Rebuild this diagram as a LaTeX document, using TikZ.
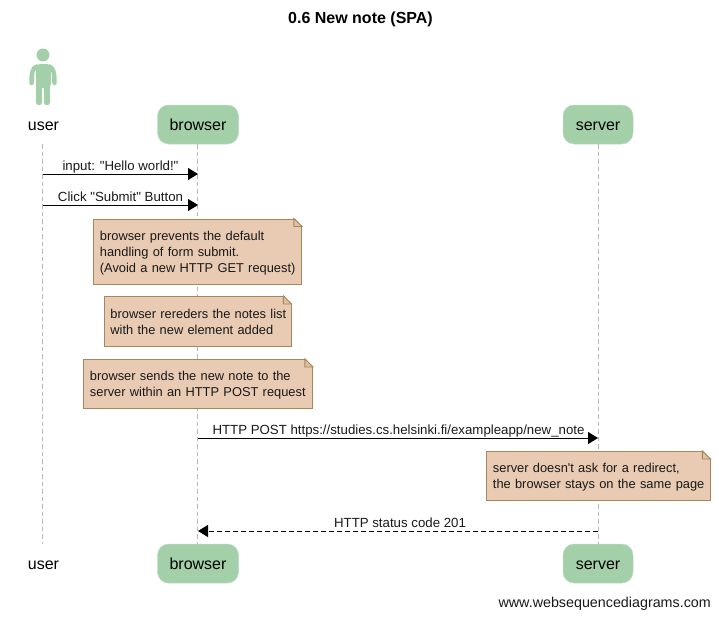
\documentclass[tikz,border=0pt]{standalone}
\usepackage{fontspec}
\setmainfont{Liberation Sans}[Ligatures=TeXOff]
\usetikzlibrary{arrows.meta,calc}
\definecolor{actorgreen}{HTML}{A3D0A9}
\definecolor{notefill}{HTML}{E8CBB2}
\definecolor{noteedge}{HTML}{A6875A}
\definecolor{lifegray}{HTML}{B8B8B8}
\tikzset{
  x=1pt,y=-1pt,
  participant/.style={fill=actorgreen,draw=actorgreen!70!white,line width=.5pt,rounded corners=11pt,minimum height=39pt,inner sep=0pt,text height=12.5pt,text depth=1.5pt,font=\fontsize{16}{18}\selectfont,text=black},
  plainname/.style={inner sep=0pt,text height=12.5pt,text depth=1.5pt,font=\fontsize{16}{18}\selectfont,text=black},
  lifeline/.style={draw=lifegray,line width=.8pt,dash pattern=on 4.5pt off 3pt},
  msg/.style={draw=black,line width=1pt,-{Triangle[length=10pt,width=12pt]}},
  retmsg/.style={msg,dash pattern=on 5pt off 3pt},
  msglabel/.style={inner sep=0pt,anchor=base,font=\fontsize{13.25}{16}\selectfont,text=black!90},
  notebox/.style={fill=notefill,draw=noteedge,line width=.9pt,anchor=north west,inner sep=0pt,font=\fontsize{12.85}{16}\selectfont,align=left,text=black!90},
  foldcut/.style={fill=white,draw=none},
  foldmark/.style={fill=notefill!85!noteedge,draw=noteedge,line width=.9pt,line join=miter},
  limb/.style={draw=actorgreen,line cap=round,line join=round},
}
\newcommand{\ind}{\hspace*{6.5pt}}
\newcommand{\dogear}[1]{%
  \path[foldcut] ($(#1.north east)+(-8,-1)$) -- ($(#1.north east)+(1,-1)$) -- ($(#1.north east)+(1,8)$) -- cycle;
  \draw[foldmark] ($(#1.north east)+(-8,0)$) -- ($(#1.north east)+(0,8)$) -- ($(#1.north east)+(-8,8)$) -- cycle;
}
\begin{document}
\begin{tikzpicture}
\useasboundingbox (0,0) rectangle (719,618);
\node[font=\bfseries\fontsize{16}{18}\selectfont,inner sep=0pt] (title) at (360.5,19.5) {0.6 New note (SPA)};
% user icon
\fill[actorgreen] (43,55) circle (6.5);
\draw[limb,line width=8pt] (39.5,68) -- (46.5,68) -- (46.5,84) -- (39.5,84) -- cycle;
\draw[limb,line width=5.5pt] (39,102.5) -- (39,82);
\draw[limb,line width=5.5pt] (47,102.5) -- (47,82);
\draw[limb,line width=4.5pt] (36.5,66.5) .. controls (33,68) and (31.5,72) .. (31.5,83);
\draw[limb,line width=4.5pt] (49.5,66.5) .. controls (53,68) and (54.5,72) .. (54.5,83);
% participants
\node[plainname] (userT) at (43.5,124.5) {user};
\node[plainname] (userB) at (43.5,563.5) {user};
\node[participant,minimum width=81pt] (browserT) at (198,124.5) {browser};
\node[participant,minimum width=70pt] (serverT) at (598,124.5) {server};
\node[participant,minimum width=81pt] (browserB) at (198,563.5) {browser};
\node[participant,minimum width=70pt] (serverB) at (598,563.5) {server};
% lifelines
\coordinate (uTop) at (42.5,144); \coordinate (uBot) at (42.5,544);
\coordinate (bTop) at (197.5,144); \coordinate (bBot) at (197.5,544);
\coordinate (sTop) at (598.5,144); \coordinate (sBot) at (598.5,544);
\draw[lifeline] (uTop) -- (uBot);
\draw[lifeline] (bTop) -- (bBot);
\draw[lifeline] (sTop) -- (sBot);
% messages
\coordinate (m1a) at (43,174); \coordinate (m1b) at (198,174);
\coordinate (m2a) at (43,205); \coordinate (m2b) at (198,205);
\coordinate (m3a) at (198,438); \coordinate (m3b) at (598,438);
\coordinate (m4a) at (598,531); \coordinate (m4b) at (198,531);
\draw[msg] (m1a) -- (m1b);
\draw[msg] (m2a) -- (m2b);
\draw[msg] (m3a) -- (m3b);
\draw[retmsg] (m4a) -- (m4b);
\node[msglabel] (l1) at (120.5,170) {input: "Hello world!"};
\node[msglabel] (l2) at (120.5,201) {Click "Submit" Button};
\node[msglabel] (l3) at (398.5,434.5) {HTTP POST https://studies.cs.helsinki.fi/exampleapp/new\_note};
\node[msglabel] (l4) at (400,527) {HTTP status code 201};
% notes
\node[notebox,minimum width=208pt,minimum height=65pt,text width=208pt] (n1) at (93,218.5) {\ind\rule{0pt}{13.5pt}browser prevents the default\\\ind handling of form submit.\\\ind(Avoid a new HTTP GET request)};
\dogear{n1}
\node[notebox,minimum width=187pt,minimum height=50pt,text width=187pt] (n2) at (103.5,296) {\ind browser rereders the notes list\\\ind with the new element added};
\dogear{n2}
\node[notebox,minimum width=229pt,minimum height=49pt,text width=229pt] (n3) at (83,359) {\ind\rule{0pt}{11pt}browser sends the new note to the\\\ind server within an HTTP POST request};
\dogear{n3}
\node[notebox,minimum width=223.5pt,minimum height=49pt,text width=223.5pt] (n4) at (486,451) {\ind\rule{0pt}{12.5pt}server doesn't ask for a redirect,\\\ind the browser stays on the same page};
\dogear{n4}
\node[inner sep=0pt,anchor=base east,font=\fontsize{14.3}{16}\selectfont,text=black!90] (wsd) at (711,607) {www.websequencediagrams.com};
\end{tikzpicture}
\end{document}
